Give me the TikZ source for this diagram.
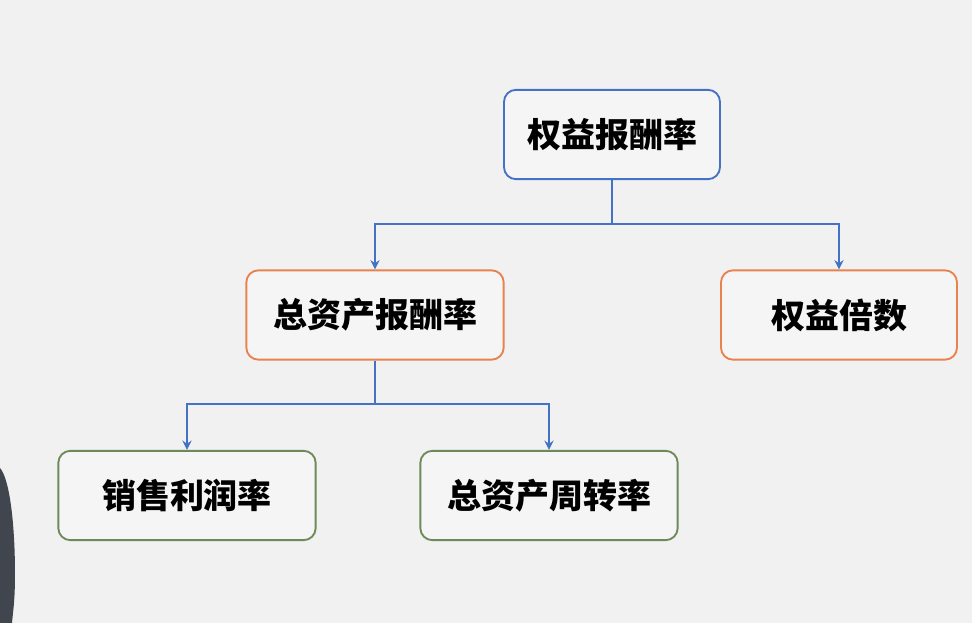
\documentclass[tikz,border=0pt]{standalone}
\usepackage{fontspec}
\usepackage{tikz}
\usepackage{xcolor}
\usetikzlibrary{positioning, arrows.meta}
\newfontfamily\cjk{Noto Sans CJK SC}
\definecolor{bgcol}{HTML}{F1F1F1}
\definecolor{linkblue}{HTML}{4472C4}
\definecolor{boxorange}{HTML}{E8824E}
\definecolor{boxgreen}{HTML}{6E8A5B}
\definecolor{shadow}{HTML}{41454D}
\tikzset{
  box/.style={rectangle, rounded corners=9pt, line width=1.4pt, fill=white!30!bgcol, minimum height=67pt, font=\cjk\bfseries\fontsize{25.5}{30}\selectfont},
  link/.style={draw=linkblue, line width=1.4pt},
  arr/.style={link, -{Stealth[length=7pt, width=7pt]}}
}

\begin{document}
\begin{tikzpicture}[x=0.75pt, y=-0.75pt]
                \fill[bgcol] (0,0) rectangle (972,623);
                \useasboundingbox (0,0) rectangle (972,623);
                \fill[shadow] (0,468) .. controls (9,478) and (15,520) .. (15,575) .. controls (15,600) and (13,612) .. (12,623) -- (0,623) -- cycle;

                \node[box, draw=linkblue, minimum width=162pt] (roe) at (612, 134.5) {权益报酬率};
                \node[box, draw=boxorange, minimum width=193pt] (roa) at (375, 315) {总资产报酬率};
                \node[box, draw=boxorange, minimum width=177pt] (em) at (839, 315) {权益倍数};
                \node[box, draw=boxgreen, minimum width=193pt] (pm) at (187, 495.5) {销售利润率};
                \node[box, draw=boxgreen, minimum width=193pt] (tat) at (549, 495.5) {总资产周转率};

                \coordinate (j1) at (612, 224);
                \coordinate (j2) at (375, 404);

                \draw[link] (roe) -- (j1);
                \draw[arr] (j1) -| (roa);
                \draw[arr] (j1) -| (em);
                \draw[link] (roa) -- (j2);
                \draw[arr] (j2) -| (pm);
                \draw[arr] (j2) -| (tat);
            \end{tikzpicture}
\end{document}
